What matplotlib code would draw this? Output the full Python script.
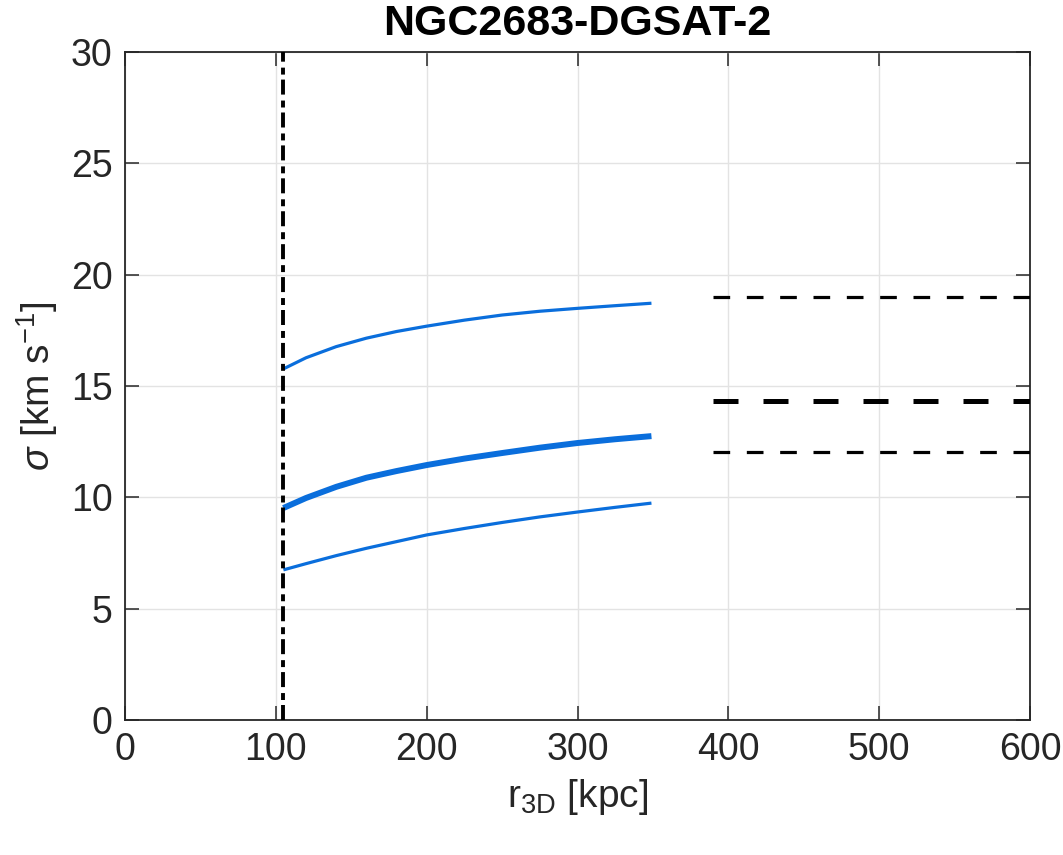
import matplotlib
matplotlib.use("Agg")
import matplotlib.pyplot as plt

plt.rcParams['font.family'] = ['Liberation Sans', 'DejaVu Sans']
plt.rcParams['mathtext.fontset'] = 'custom'
plt.rcParams['mathtext.rm'] = 'Liberation Sans'
plt.rcParams['mathtext.it'] = 'Liberation Sans:italic'
plt.rcParams['lines.scale_dashes'] = False

# Data
r_model = [105, 120, 140, 160, 180, 200, 225, 250, 275, 300, 325, 349]
sigma_upper = [15.77, 16.27, 16.77, 17.15, 17.45, 17.69, 17.96, 18.19, 18.36, 18.49, 18.61, 18.72]
sigma_mid = [9.52, 9.97, 10.47, 10.88, 11.18, 11.45, 11.74, 11.99, 12.23, 12.44, 12.61, 12.75]
sigma_lower = [6.74, 7.02, 7.38, 7.71, 8.01, 8.31, 8.60, 8.87, 9.12, 9.34, 9.55, 9.74]

r_obs = [390, 600]
obs_upper = 19.0
obs_mid = 14.32
obs_lower = 12.03

r_vertical = 105

title = "NGC2683-DGSAT-2"
xticks = [0, 100, 200, 300, 400, 500, 600]
yticks = [0, 5, 10, 15, 20, 25, 30]

blue = '#0a6edc'

fig = plt.figure(figsize=(10.63, 8.55), dpi=100)
ax = fig.add_axes([0.1176, 0.158, 0.8514, 0.781])

ax.plot(r_model, sigma_upper, color=blue, lw=2.3, solid_capstyle='butt',
        solid_joinstyle='round', zorder=3)
ax.plot(r_model, sigma_mid, color=blue, lw=4.3, solid_capstyle='butt',
        solid_joinstyle='round', zorder=3)
ax.plot(r_model, sigma_lower, color=blue, lw=2.3, solid_capstyle='butt',
        solid_joinstyle='round', zorder=3)

ax.plot(r_obs, [obs_upper, obs_upper], color='black', lw=2.3, dashes=(12, 12), zorder=3)
ax.plot(r_obs, [obs_mid, obs_mid], color='black', lw=3.6, dashes=(18, 18), zorder=3)
ax.plot(r_obs, [obs_lower, obs_lower], color='black', lw=2.3, dashes=(12, 12), zorder=3)

ax.plot([r_vertical, r_vertical], [0, 30], color='black', lw=2.8,
        dashes=(10.8, 3.6, 5, 4.3), zorder=4)

ax.set_xlim(0, 600)
ax.set_ylim(0, 30)
ax.set_xticks(xticks)
ax.set_yticks(yticks)
ax.grid(True, color='#e3e3e3', lw=1.0)
ax.set_axisbelow(True)

for s in ax.spines.values():
    s.set_color('#262626')
    s.set_linewidth(1.3)

ax.tick_params(direction='in', length=10, width=1.1, color='#262626',
               top=True, right=True, labelsize=27, labelcolor='#262626', pad=9)

ax.set_title(title, fontsize=31, fontweight='bold', pad=12)
ax.set_xlabel(r'$\mathregular{r_{3D}}$ [kpc]', fontsize=28, color='#262626', labelpad=6)
ax.set_ylabel(r'$\sigma$ [km s$^{\mathregular{-1}}$]', fontsize=28, color='#262626', labelpad=8)

fig.savefig('out.png', dpi=100)
